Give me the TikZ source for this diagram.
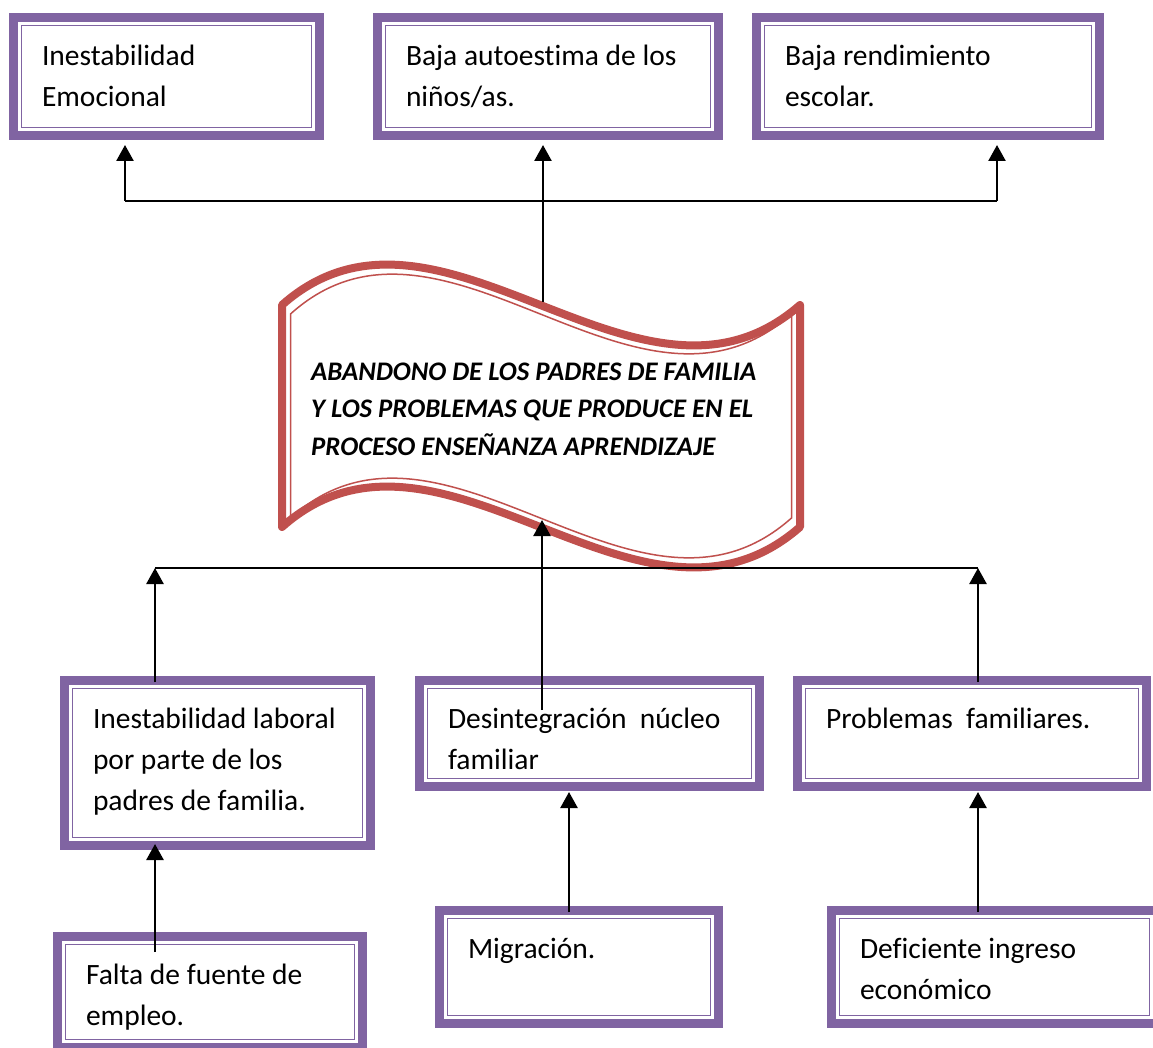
\documentclass[tikz,border=0pt]{standalone}
\usepackage{fontspec}
\setmainfont{Carlito}[Ligatures=NoCommon]
\usetikzlibrary{arrows.meta}
\definecolor{boxpurple}{HTML}{8064A2}
\definecolor{bannerred}{HTML}{C0504D}
\tikzset{
  cbox/.style={draw=boxpurple, line width=9pt, fill=white, anchor=north west,
    align=flush left, inner xsep=28.5pt, inner ysep=4pt, text height=44pt,
    font=\fontsize{29.5}{41}\selectfont,
    path picture={\draw[boxpurple, line width=1.5pt]
      ([shift={(8pt,-8pt)}]path picture bounding box.north west) rectangle
      ([shift={(-8pt,8pt)}]path picture bounding box.south east);}},
  link/.style={line width=1.5pt},
  arr/.style={line width=2.5pt, -{Triangle[width=17pt,length=16pt]}},
}
\begin{document}
\begin{tikzpicture}[x=1pt,y=-1pt]
		\useasboundingbox (0,0) rectangle (1153,1048);
		\clip (0,0) rectangle (1153,1048);
		\node[cbox, text width=249pt, text depth=66pt] (emocional) at (9,13) {Inestabilidad\\Emocional};
		\node[cbox, text width=284pt, text depth=66pt] (autoestima) at (373,13) {Baja autoestima de los\\ niños/as.};
		\node[cbox, text width=286pt, text depth=66pt] (rendimiento) at (752,13) {Baja rendimiento\\ escolar.};
		\node[cbox, text width=249pt, text depth=113pt] (laboral) at (60,676) {Inestabilidad laboral\\ por parte de los\\ padres de familia.};
		\node[cbox, text width=283pt, text depth=54pt] (nucleo) at (415,676) {Desintegración\ \ núcleo\\ familiar};
		\node[cbox, text width=292pt, text depth=54pt] (problemas) at (793,676) {Problemas\ \ familiares.};
		\node[cbox, text width=248pt, text depth=59pt] (empleo) at (53,932) {Falta de fuente de\\ empleo.};
		\node[cbox, text width=222pt, text depth=61pt] (migracion) at (435,906) {Migración.};
		\node[cbox, text width=269pt, text depth=61pt] (ingreso) at (827,906) {Deficiente ingreso\\ económico};
		\draw[bannerred, line width=8pt, line join=round, fill=white] (282,305) .. controls (440,165) and (640,445) .. (800,305) -- (800,527) .. controls (640,667) and (440,387) .. (282,527) -- cycle;
		\draw[bannerred, line width=1.5pt] (290.5,314) .. controls (443.5,176) and (636.5,452) .. (791.5,314) -- (791.5,518) .. controls (636.5,656) and (443.5,380) .. (290.5,518) -- cycle;
		\node[anchor=base west, text width=480pt, inner sep=0pt, align=flush left, font=\fontsize{26.8}{37.5}\selectfont\bfseries\itshape] (abandono) at (311,380) {ABANDONO DE LOS PADRES DE FAMILIA\\ Y LOS PROBLEMAS QUE PRODUCE EN EL\\ PROCESO ENSEÑANZA APRENDIZAJE};
		\coordinate (e1) at (125,201);
		\coordinate (e2) at (543,201);
		\coordinate (e3) at (997,201);
		\coordinate (abTop) at (543,302);
		\draw[link] (e1)--(e3);
		\draw[link] (abTop)--(e2);
		\draw[arr, shorten >=5pt] (e1)--(e1 |- emocional.south);
		\draw[arr, shorten >=5pt] (e2)--(e2 |- autoestima.south);
		\draw[arr, shorten >=5pt] (e3)--(e3 |- rendimiento.south);
		\coordinate (c1) at (155,568);
		\coordinate (c3) at (978,568);
		\coordinate (d0) at (542,710);
		\coordinate (abBot) at (542,520);
		\draw[link] (c1)--(c3);
		\draw[arr] ([yshift=-6pt]c1 |- laboral.north)--(c1);
		\draw[arr] ([yshift=-6pt]c3 |- problemas.north)--(c3);
		\draw[arr] (d0)--(abBot);
		\coordinate (f0) at (155,952);
		\coordinate (m0) at (569,912);
		\coordinate (i0) at (978,912);
		\draw[arr, shorten >=-6pt] (f0)--(f0 |- laboral.south);
		\draw[arr, shorten >=1pt] (m0)--(m0 |- nucleo.south);
		\draw[arr, shorten >=1pt] (i0)--(i0 |- problemas.south);
\end{tikzpicture}
\end{document}
